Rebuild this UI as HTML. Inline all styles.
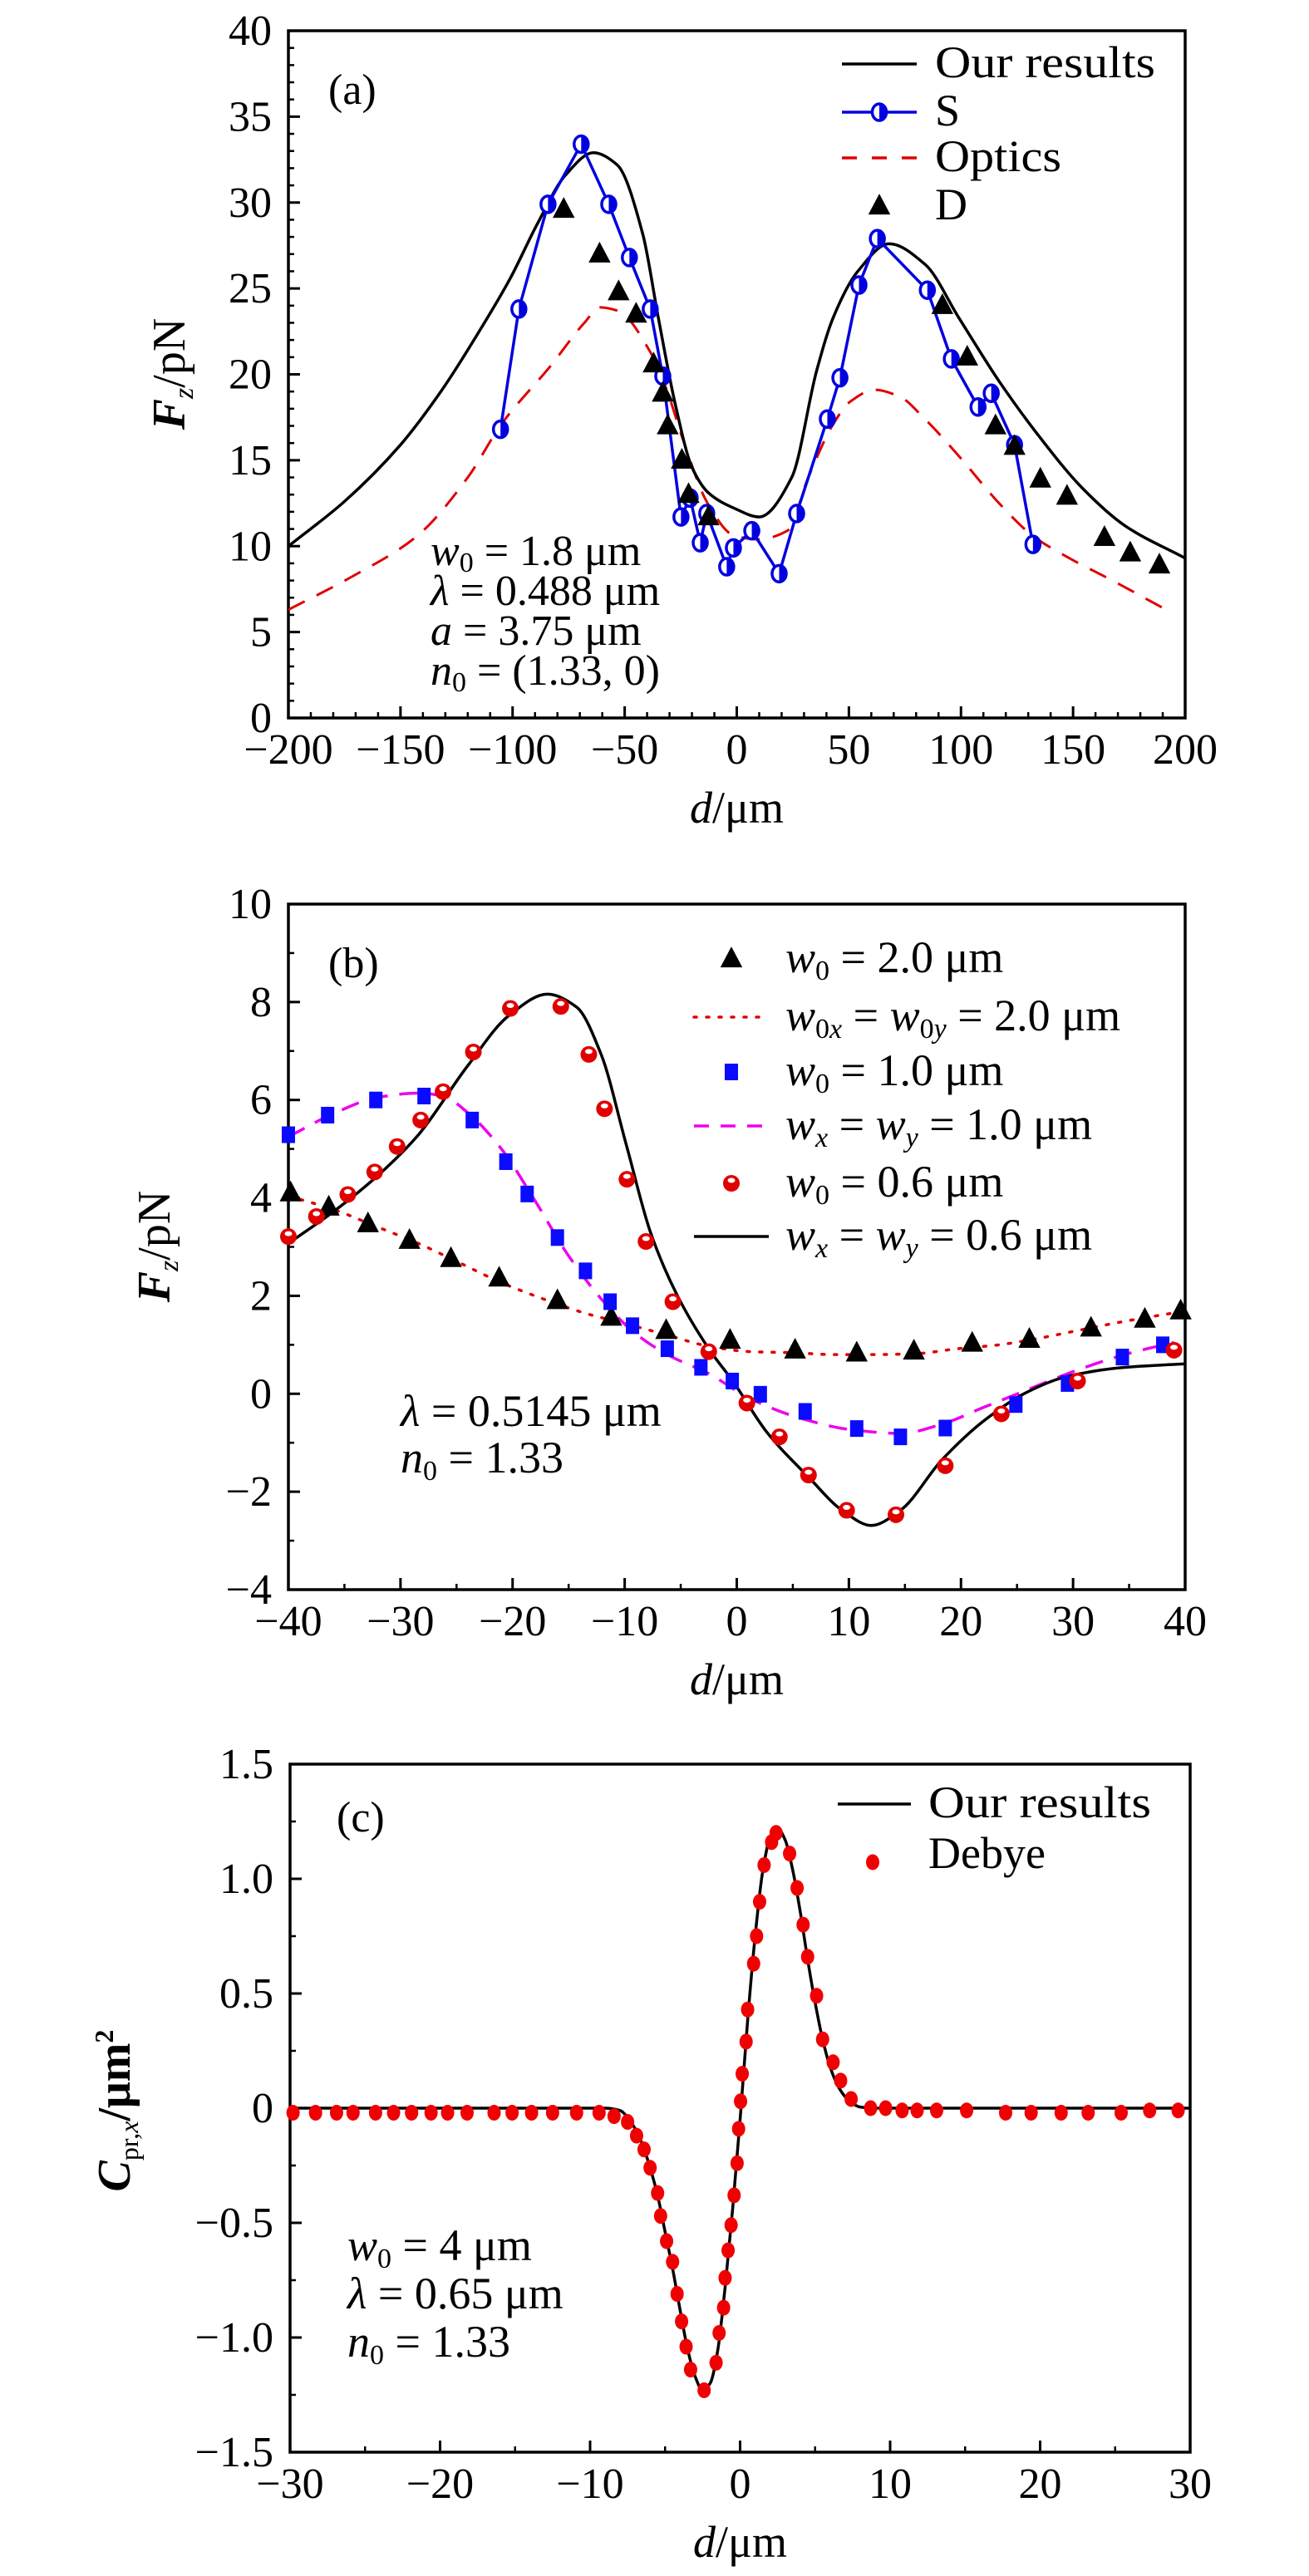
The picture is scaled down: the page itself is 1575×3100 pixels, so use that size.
<!DOCTYPE html>
<html><head><meta charset="utf-8">
<style>
html,body{margin:0;padding:0;background:#fff;}
svg{display:block;}
text{font-family:"Liberation Serif",serif;fill:#000;}
</style></head>
<body>
<svg id="fig" width="1575" height="3100" viewBox="0 0 1575 3100" xmlns="http://www.w3.org/2000/svg"></svg>
<script>
// ---------- Panel (a) data ----------
const aOursD = [-200,-175,-150,-132,-113.5,-101,-88.8,-76.4,-64,-53.4,-42,-35,-27.5,-20,-12.6,-1,10,24.5,35.6,43,54,68,84,99,117,136,154,173,200];
const aOursY = [10.0,12.6,15.9,19.0,22.8,25.6,28.8,31.6,32.9,32.2,28.2,23.3,18.3,14.6,13.1,12.2,11.7,14.0,20.2,23.3,26.0,27.6,26.4,23.3,19.6,16.2,13.4,11.2,9.3];
const aSD = [-105.4,-97.2,-84.2,-69.4,-57.1,-47.9,-38.6,-33.0,-24.9,-20.8,-16.3,-13.4,-4.5,-1.5,6.7,18.9,26.7,40.4,46.0,54.5,62.7,85.0,95.7,107.6,113.5,123.9,132.1];
const aSY = [16.8,23.8,29.9,33.4,29.9,26.8,23.8,19.9,11.7,12.8,10.2,11.9,8.8,9.9,10.9,8.4,11.9,17.4,19.8,25.2,27.9,24.9,20.9,18.1,18.9,15.9,10.1];
const aOptD = [-200,-172,-142.5,-120,-105,-83,-68,-61,-53,-39,-31,-24,-13,-1,9.6,22.6,31.9,43,50.5,61.6,72.7,83.9,98.7,117,132,147,169,191.5];
const aOptY = [6.3,8.2,10.6,14.0,17.1,20.5,23.0,23.9,23.7,21.4,19.0,16.2,12.5,10.6,10.4,10.9,14.0,17.1,18.4,19.1,18.7,17.4,15.3,12.5,10.6,9.4,7.9,6.3];
const aDD = [-77.2,-61.2,-52.7,-44.9,-37.1,-33.0,-30.8,-24.5,-21.5,-12.6,91.7,102.8,115.4,123.9,135.4,147.3,164,175.5,188.5];
const aDY = [29.6,27.0,24.8,23.5,20.6,18.9,17.0,15.0,13.0,11.7,24.0,21.0,17.0,15.8,13.9,12.9,10.5,9.6,8.9];
const aXTicks = [-200,-150,-100,-50,0,50,100,150,200];
const aYTicks = [0,5,10,15,20,25,30,35,40];

// ---------- Panel (b) data ----------
const bBlackD = [-40,-35.8,-32.1,-28.4,-24,-20.3,-16.9,-14.3,-12.1,-9.9,-7.7,-5.4,-2.5,-0.3,2.7,6.4,9.4,12,14.6,18.3,22,25.7,29.4,34.6,40];
const bBlackY = [3.07,3.75,4.44,5.29,6.7,7.73,8.16,7.9,6.93,5.12,3.3,2.05,0.92,0.24,-0.79,-1.7,-2.38,-2.69,-2.38,-1.35,-0.56,0.01,0.35,0.54,0.61];
const bRedD = [-40,-37.5,-34.7,-32.3,-30.3,-28.2,-26.2,-23.5,-20.2,-15.7,-13.2,-11.8,-9.8,-8.1,-5.7,-2.5,0.9,3.8,6.4,9.8,14.2,18.6,23.6,30.4,39];
const bRedY = [3.21,3.62,4.07,4.53,5.05,5.59,6.17,6.98,7.87,7.91,6.93,5.82,4.38,3.11,1.88,0.86,-0.19,-0.88,-1.66,-2.38,-2.47,-1.47,-0.41,0.26,0.89];
const bSqD = [-40,-36.5,-32.2,-27.9,-23.6,-20.6,-18.7,-16,-13.5,-11.3,-9.3,-6.2,-3.2,-0.4,2.1,6.1,10.7,14.6,18.6,24.9,29.5,34.4,38];
const bSqY = [5.29,5.69,6.0,6.08,5.59,4.74,4.08,3.19,2.51,1.88,1.39,0.92,0.54,0.26,-0.01,-0.36,-0.71,-0.88,-0.7,-0.22,0.21,0.75,1.0];
const bMagD = [-40,-35.8,-32.1,-28.4,-26.2,-24,-21,-18.1,-15.1,-12.1,-9.2,-6.2,-2.5,1.2,5.7,10.1,14.6,18.3,22,25.7,30.1,34.6,39];
const bMagY = [5.25,5.74,6.05,6.14,6.08,5.74,5.0,3.98,2.85,1.94,1.26,0.8,0.41,-0.1,-0.5,-0.73,-0.81,-0.62,-0.28,0.06,0.46,0.8,1.05];
const bTriD = [-39.8,-36.4,-32.9,-29.2,-25.5,-21.2,-16,-11.2,-6.3,-0.6,5.2,10.7,15.8,21,26.1,31.6,36.4,39.6];
const bTriY = [4.1,3.81,3.47,3.13,2.76,2.36,1.9,1.56,1.29,1.09,0.89,0.83,0.87,1.03,1.11,1.34,1.52,1.69];
const bDotD = [-40,-35.8,-32.1,-28.4,-24.7,-21,-17.3,-13.6,-9.9,-6.2,-2.5,1.2,4.9,8.6,12.3,16,19.7,23.4,27.1,30.8,34.6,40];
const bDotY = [4.04,3.75,3.41,3.07,2.67,2.27,1.94,1.65,1.43,1.2,0.97,0.86,0.84,0.8,0.8,0.82,0.92,1.0,1.14,1.31,1.48,1.69];
const bXTicks = [-40,-30,-20,-10,0,10,20,30,40];
const bYTicks = [-4,-2,0,2,4,6,8,10];

// ---------- Panel (c) data ----------
const cOursD = [-30,-9,-8,-7.5,-7,-6.5,-6,-5.5,-5,-4.5,-4,-3.5,-3,-2.5,-2,-1.5,-1,-0.5,0,0.5,1,1.5,2,2.5,3,3.5,4,4.5,5,5.5,6,6.5,7,7.5,8,9,30];
const cOursY = [0,0,-0.01,-0.04,-0.09,-0.16,-0.26,-0.38,-0.54,-0.7,-0.88,-1.05,-1.17,-1.23,-1.2,-1.06,-0.78,-0.44,-0.05,0.38,0.75,1.03,1.18,1.22,1.17,1.04,0.86,0.65,0.46,0.3,0.18,0.1,0.05,0.02,0.005,0,0];
const cDebD = [-29.8,-28.3,-26.9,-25.8,-24.3,-23.1,-21.9,-20.6,-19.5,-18.2,-16.4,-15.2,-13.9,-12.5,-10.9,-9.4,-8.4,-7.5,-6.9,-6.4,-6.0,-5.5,-5.3,-4.9,-4.5,-4.2,-3.9,-3.6,-3.3,-2.4,-1.6,-1.4,-1.1,-1.0,-0.8,-0.6,-0.4,-0.2,-0.1,0.03,0.14,0.4,0.5,0.9,1.1,1.3,1.6,2.1,2.4,3.3,3.8,4.2,4.5,5.1,5.5,6.2,6.7,7.4,8.7,9.7,10.8,11.8,13.1,15.1,17.7,19.4,21.4,23.2,25.4,27.3,29.2];
const cDebY = [-0.02,-0.02,-0.02,-0.02,-0.02,-0.02,-0.02,-0.02,-0.02,-0.02,-0.02,-0.02,-0.02,-0.02,-0.02,-0.02,-0.035,-0.06,-0.12,-0.18,-0.26,-0.37,-0.47,-0.58,-0.67,-0.81,-0.93,-1.04,-1.14,-1.23,-1.11,-0.98,-0.87,-0.74,-0.62,-0.51,-0.38,-0.24,-0.09,0.03,0.15,0.29,0.43,0.63,0.75,0.90,1.06,1.16,1.20,1.11,0.96,0.80,0.66,0.49,0.30,0.20,0.12,0.04,0,0,-0.01,-0.01,-0.01,-0.01,-0.02,-0.02,-0.02,-0.02,-0.02,-0.01,-0.01];
const cXTicks = [-30,-20,-10,0,10,20,30];
const cYTicks = [-1.5,-1.0,-0.5,0,0.5,1.0,1.5];
const cYLabels = ["−1.5","−1.0","−0.5","0","0.5","1.0","1.5"];

const NS = "http://www.w3.org/2000/svg";
const svg = document.getElementById('fig');
function el(tag, attrs, parent){
  const e = document.createElementNS(NS, tag);
  for (const k in attrs) e.setAttribute(k, attrs[k]);
  (parent||svg).appendChild(e);
  return e;
}
function fmt(v){ return v<0 ? "−"+Math.abs(v) : String(v); }
function smoothPath(pts){
  const n = pts.length;
  const dx=[], s=[];
  for (let i=0;i<n-1;i++){ dx.push(pts[i+1][0]-pts[i][0]); s.push((pts[i+1][1]-pts[i][1])/dx[i]); }
  const m=[s[0]];
  for (let i=1;i<n-1;i++){
    if (s[i-1]*s[i]<=0) m.push(0);
    else { const w1=2*dx[i]+dx[i-1], w2=dx[i]+2*dx[i-1]; m.push((w1+w2)/(w1/s[i-1]+w2/s[i])); }
  }
  m.push(s[n-2]);
  let d = "M"+pts[0][0].toFixed(1)+","+pts[0][1].toFixed(1);
  for (let i=0;i<n-1;i++){
    const h=dx[i];
    const c1x=pts[i][0]+h/3, c1y=pts[i][1]+m[i]*h/3;
    const c2x=pts[i+1][0]-h/3, c2y=pts[i+1][1]-m[i+1]*h/3;
    d += " C"+c1x.toFixed(1)+","+c1y.toFixed(1)+" "+c2x.toFixed(1)+","+c2y.toFixed(1)+" "+pts[i+1][0].toFixed(1)+","+pts[i+1][1].toFixed(1);
  }
  return d;
}
function makeAxes(cfg){
  const g = el('g',{});
  
  
  const sx = v => cfg.L + (v-cfg.x0)/(cfg.x1-cfg.x0)*(cfg.R-cfg.L);
  const sy = v => cfg.B - (v-cfg.y0)/(cfg.y1-cfg.y0)*(cfg.B-cfg.T);
  for (let v=cfg.x0; v<=cfg.x1+1e-9; v+=cfg.xMinor){
    const t = el('line',{x1:sx(v),x2:sx(v),y1:cfg.B,y2:cfg.B-7,stroke:'#000','stroke-width':2.5},g);
    
    
  }
  for (let v=cfg.y0; v<=cfg.y1+1e-9; v+=cfg.yMinor){
    const t = el('line',{x1:cfg.L,x2:cfg.L+7,y1:sy(v),y2:sy(v),stroke:'#000','stroke-width':2.5},g);
    
    
  }
  cfg.xTicks.forEach((v,i)=>{
    const t = el('line',{x1:sx(v),x2:sx(v),y1:cfg.B,y2:cfg.B-14,stroke:'#000','stroke-width':3},g);
    
    
    const lb = el('text',{x:sx(v),y:cfg.B+55,'font-size':52,'text-anchor':'middle'},g);
    lb.textContent = fmt(v);
    
    
  });
  cfg.yTicks.forEach((v,i)=>{
    const t = el('line',{x1:cfg.L,x2:cfg.L+14,y1:sy(v),y2:sy(v),stroke:'#000','stroke-width':3},g);
    
    
    const lb = el('text',{x:cfg.L-20,y:sy(v)+17,'font-size':52,'text-anchor':'end'},g);
    lb.textContent = cfg.yLabels ? cfg.yLabels[i] : fmt(v);
    
    
  });
  const fr = el('rect',{x:cfg.L,y:cfg.T,width:cfg.R-cfg.L,height:cfg.B-cfg.T,fill:'none',stroke:'#000','stroke-width':3.5},g);
  
  
  const xl = el('text',{x:(cfg.L+cfg.R)/2,y:cfg.B+126,'font-size':54,'text-anchor':'middle'},g);
  xl.innerHTML = '<tspan font-style="italic">d</tspan>/μm';
  
  
  return {g,sx,sy};
}
function triangle(g,x,y,s){
  return el('polygon',{points:`${x},${y-s*0.62} ${x-s*0.55},${y+s*0.42} ${x+s*0.55},${y+s*0.42}`,fill:'#000'},g);
}
function halfCircle(g,x,y,r,col){
  const c = el('ellipse',{cx:x,cy:y,rx:r*0.85,ry:r,fill:'#fff',stroke:col,'stroke-width':3.5},g);
  el('path',{d:`M${x},${y-r} A${r*0.85},${r} 0 0 1 ${x},${y+r} Z`,fill:col},g);
  return c;
}
function redCircle(g,x,y,r){
  const c = el('circle',{cx:x,cy:y,r:r,fill:'#e00000'},g);
  el('ellipse',{cx:x,cy:y-r*0.35,rx:r*0.45,ry:r*0.3,fill:'#fff'},g);
  return c;
}

// ================= Panel (a) =================
{
  const A = makeAxes({name:'panel-a',L:347,R:1426,T:37,B:864,x0:-200,x1:200,y0:0,y1:40,xMinor:10,yMinor:1,xTicks:aXTicks,yTicks:aYTicks});
  const g = A.g;
  const yl = el('text',{x:0,y:0,'font-size':56,'text-anchor':'middle',transform:'translate(222,450) rotate(-90)'},g);
  yl.innerHTML = '<tspan font-style="italic" font-weight="bold">F</tspan><tspan font-style="italic" font-size="34" dy="10">z</tspan><tspan dy="-10">/pN</tspan>';
  
  
  const clip = el('clipPath',{id:'clipA'},g);
  el('rect',{x:347,y:37,width:1079,height:827},clip);
  const opt = el('path',{d:smoothPath(aOptD.map((d,i)=>[A.sx(d),A.sy(aOptY[i])])),fill:'none',stroke:'#e00000','stroke-width':3,'stroke-dasharray':'22,16','clip-path':'url(#clipA)'},g);
  
  
  const ours = el('path',{d:smoothPath(aOursD.map((d,i)=>[A.sx(d),A.sy(aOursY[i])])),fill:'none',stroke:'#000','stroke-width':3.5,'clip-path':'url(#clipA)'},g);
  
  
  const sl = el('polyline',{points:aSD.map((d,i)=>A.sx(d)+','+A.sy(aSY[i])).join(' '),fill:'none',stroke:'#0000e0','stroke-width':3.5},g);
  
  
  aSD.forEach((d,i)=>{
    const m = halfCircle(g,A.sx(d),A.sy(aSY[i]),10,'#0000e0');
    
    
  });
  aDD.forEach((d,i)=>{
    const m = triangle(g,A.sx(d),A.sy(aDY[i]),24);
    
    
  });
  const lab = el('text',{x:395,y:125,'font-size':52},g); lab.textContent='(a)';
   
  const lg = el('g',{},g);
   
  el('line',{x1:1013,x2:1103,y1:77,y2:77,stroke:'#000','stroke-width':3.5},lg);
  let t=el('text',{x:1125,y:93,'font-size':54,textLength:265,lengthAdjust:'spacingAndGlyphs'},lg); t.textContent='Our results';
   
  el('line',{x1:1013,x2:1103,y1:135,y2:135,stroke:'#0000e0','stroke-width':3.5},lg);
  halfCircle(lg,1058,135,10,'#0000e0');
  t=el('text',{x:1125,y:151,'font-size':54},lg); t.textContent='S';
   
  el('line',{x1:1013,x2:1103,y1:190,y2:190,stroke:'#e00000','stroke-width':3.5,'stroke-dasharray':'18,18'},lg);
  t=el('text',{x:1125,y:206,'font-size':54,textLength:152,lengthAdjust:'spacingAndGlyphs'},lg); t.textContent='Optics';
   
  triangle(lg,1058,248,24);
  t=el('text',{x:1125,y:264,'font-size':54},lg); t.textContent='D';
   
  const an = el('text',{x:518,y:680,'font-size':52},g);
   
  an.innerHTML = '<tspan x="518" y="680"><tspan font-style="italic">w</tspan><tspan font-size="34" dy="8">0</tspan><tspan dy="-8"> = 1.8 μm</tspan></tspan>'+
    '<tspan x="518" y="728"><tspan font-style="italic">λ</tspan> = 0.488 μm</tspan>'+
    '<tspan x="518" y="776"><tspan font-style="italic">a</tspan> = 3.75 μm</tspan>'+
    '<tspan x="518" y="824"><tspan font-style="italic">n</tspan><tspan font-size="34" dy="8">0</tspan><tspan dy="-8"> = (1.33, 0)</tspan></tspan>';
}

// ================= Panel (b) =================
{
  const B = makeAxes({name:'panel-b',L:347,R:1426,T:1088,B:1913,x0:-40,x1:40,y0:-4,y1:10,xMinor:5,yMinor:1,xTicks:bXTicks,yTicks:bYTicks});
  const g = B.g;
  const yl = el('text',{x:0,y:0,'font-size':56,'text-anchor':'middle',transform:'translate(204,1500) rotate(-90)'},g);
  yl.innerHTML = '<tspan font-style="italic" font-weight="bold">F</tspan><tspan font-style="italic" font-size="34" dy="10">z</tspan><tspan dy="-10">/pN</tspan>';
  
  
  const dot = el('path',{d:smoothPath(bDotD.map((d,i)=>[B.sx(d),B.sy(bDotY[i])])),fill:'none',stroke:'#e00000','stroke-width':3.5,'stroke-dasharray':'3,12','stroke-linecap':'round'},g);
   
  const mag = el('path',{d:smoothPath(bMagD.map((d,i)=>[B.sx(d),B.sy(bMagY[i])])),fill:'none',stroke:'#ee00ee','stroke-width':3.5,'stroke-dasharray':'22,14'},g);
   
  const blk = el('path',{d:smoothPath(bBlackD.map((d,i)=>[B.sx(d),B.sy(bBlackY[i])])),fill:'none',stroke:'#000','stroke-width':3.5},g);
   
  bTriD.forEach((d,i)=>{
    const m = triangle(g,B.sx(d),B.sy(bTriY[i]),24);
     
  });
  bSqD.forEach((d,i)=>{
    const m = el('rect',{x:B.sx(d)-8,y:B.sy(bSqY[i])-10,width:16,height:20,fill:'#0a0aff'},g);
     
  });
  bRedD.forEach((d,i)=>{
    const m = redCircle(g,B.sx(d),B.sy(bRedY[i]),10);
     
  });
  const lab = el('text',{x:395,y:1176,'font-size':52},g); lab.textContent='(b)';
   
  const lg = el('g',{},g);
   
  const rows=[1154,1224,1290,1355,1424,1488];
  triangle(lg,880,rows[0],24);
  el('line',{x1:835,x2:925,y1:rows[1],y2:rows[1],stroke:'#e00000','stroke-width':3.5,'stroke-dasharray':'3,12','stroke-linecap':'round'},lg);
  el('rect',{x:872,y:rows[2]-10,width:16,height:20,fill:'#0a0aff'},lg);
  el('line',{x1:835,x2:925,y1:rows[3],y2:rows[3],stroke:'#ee00ee','stroke-width':3.5,'stroke-dasharray':'18,14'},lg);
  redCircle(lg,880,rows[4],10);
  el('line',{x1:835,x2:925,y1:rows[5],y2:rows[5],stroke:'#000','stroke-width':3.5},lg);
  const labels = [
    '<tspan font-style="italic">w</tspan><tspan font-size="34" dy="9">0</tspan><tspan dy="-9"> = 2.0 μm</tspan>',
    '<tspan font-style="italic">w</tspan><tspan font-size="34" dy="9">0<tspan font-style="italic">x</tspan></tspan><tspan dy="-9"> = </tspan><tspan font-style="italic">w</tspan><tspan font-size="34" dy="9">0<tspan font-style="italic">y</tspan></tspan><tspan dy="-9"> = 2.0 μm</tspan>',
    '<tspan font-style="italic">w</tspan><tspan font-size="34" dy="9">0</tspan><tspan dy="-9"> = 1.0 μm</tspan>',
    '<tspan font-style="italic">w</tspan><tspan font-size="34" dy="9" font-style="italic">x</tspan><tspan dy="-9"> = </tspan><tspan font-style="italic">w</tspan><tspan font-size="34" dy="9" font-style="italic">y</tspan><tspan dy="-9"> = 1.0 μm</tspan>',
    '<tspan font-style="italic">w</tspan><tspan font-size="34" dy="9">0</tspan><tspan dy="-9"> = 0.6 μm</tspan>',
    '<tspan font-style="italic">w</tspan><tspan font-size="34" dy="9" font-style="italic">x</tspan><tspan dy="-9"> = </tspan><tspan font-style="italic">w</tspan><tspan font-size="34" dy="9" font-style="italic">y</tspan><tspan dy="-9"> = 0.6 μm</tspan>'
  ];
  labels.forEach((h,i)=>{
    const t = el('text',{x:945,y:rows[i]+16,'font-size':54},lg);
    t.innerHTML = h;
     
  });
  const an = el('text',{x:482,y:1716,'font-size':54},g);
   
  an.innerHTML = '<tspan x="482" y="1716"><tspan font-style="italic">λ</tspan> = 0.5145 μm</tspan>'+
    '<tspan x="482" y="1772"><tspan font-style="italic">n</tspan><tspan font-size="34" dy="9">0</tspan><tspan dy="-9"> = 1.33</tspan></tspan>';
}

// ================= Panel (c) =================
{
  const C = makeAxes({name:'panel-c',L:349,R:1432,T:2123,B:2951,x0:-30,x1:30,y0:-1.5,y1:1.5,xMinor:5,yMinor:0.25,xTicks:cXTicks,yTicks:cYTicks,yLabels:cYLabels});
  const g = C.g;
  const yl = el('text',{x:0,y:0,'font-size':56,'text-anchor':'middle',transform:'translate(156,2540) rotate(-90)'},g);
  yl.innerHTML = '<tspan font-style="italic" font-weight="bold">C</tspan><tspan font-size="32" dy="10">pr,<tspan font-style="italic">x</tspan></tspan><tspan dy="-10" font-weight="bold">/μm</tspan><tspan font-size="32" dy="-20" font-weight="bold">2</tspan>';
  
  
  const ours = el('path',{d:smoothPath(cOursD.map((d,i)=>[C.sx(d),C.sy(cOursY[i])])),fill:'none',stroke:'#000','stroke-width':3.5},g);
   
  cDebD.forEach((d,i)=>{
    const m = el('ellipse',{cx:C.sx(d),cy:C.sy(cDebY[i]),rx:8,ry:9.5,fill:'#f00000'},g);
     
  });
  const lab = el('text',{x:405,y:2204,'font-size':52},g); lab.textContent='(c)';
   
  const lg = el('g',{},g);
   
  el('line',{x1:1008,x2:1096,y1:2171,y2:2171,stroke:'#000','stroke-width':3.5},lg);
  let t = el('text',{x:1117,y:2187,'font-size':54,textLength:268,lengthAdjust:'spacingAndGlyphs'},lg); t.textContent='Our results';
   
  el('ellipse',{cx:1050,cy:2241,rx:8,ry:9.5,fill:'#f00000'},lg);
  t = el('text',{x:1117,y:2248,'font-size':54},lg); t.textContent='Debye';
   
  const an = el('text',{x:418,y:2720,'font-size':54},g);
   
  an.innerHTML = '<tspan x="418" y="2720"><tspan font-style="italic">w</tspan><tspan font-size="34" dy="9">0</tspan><tspan dy="-9"> = 4 μm</tspan></tspan>'+
    '<tspan x="418" y="2778"><tspan font-style="italic">λ</tspan> = 0.65 μm</tspan>'+
    '<tspan x="418" y="2836"><tspan font-style="italic">n</tspan><tspan font-size="34" dy="9">0</tspan><tspan dy="-9"> = 1.33</tspan></tspan>';
}
</script>
</body></html>
